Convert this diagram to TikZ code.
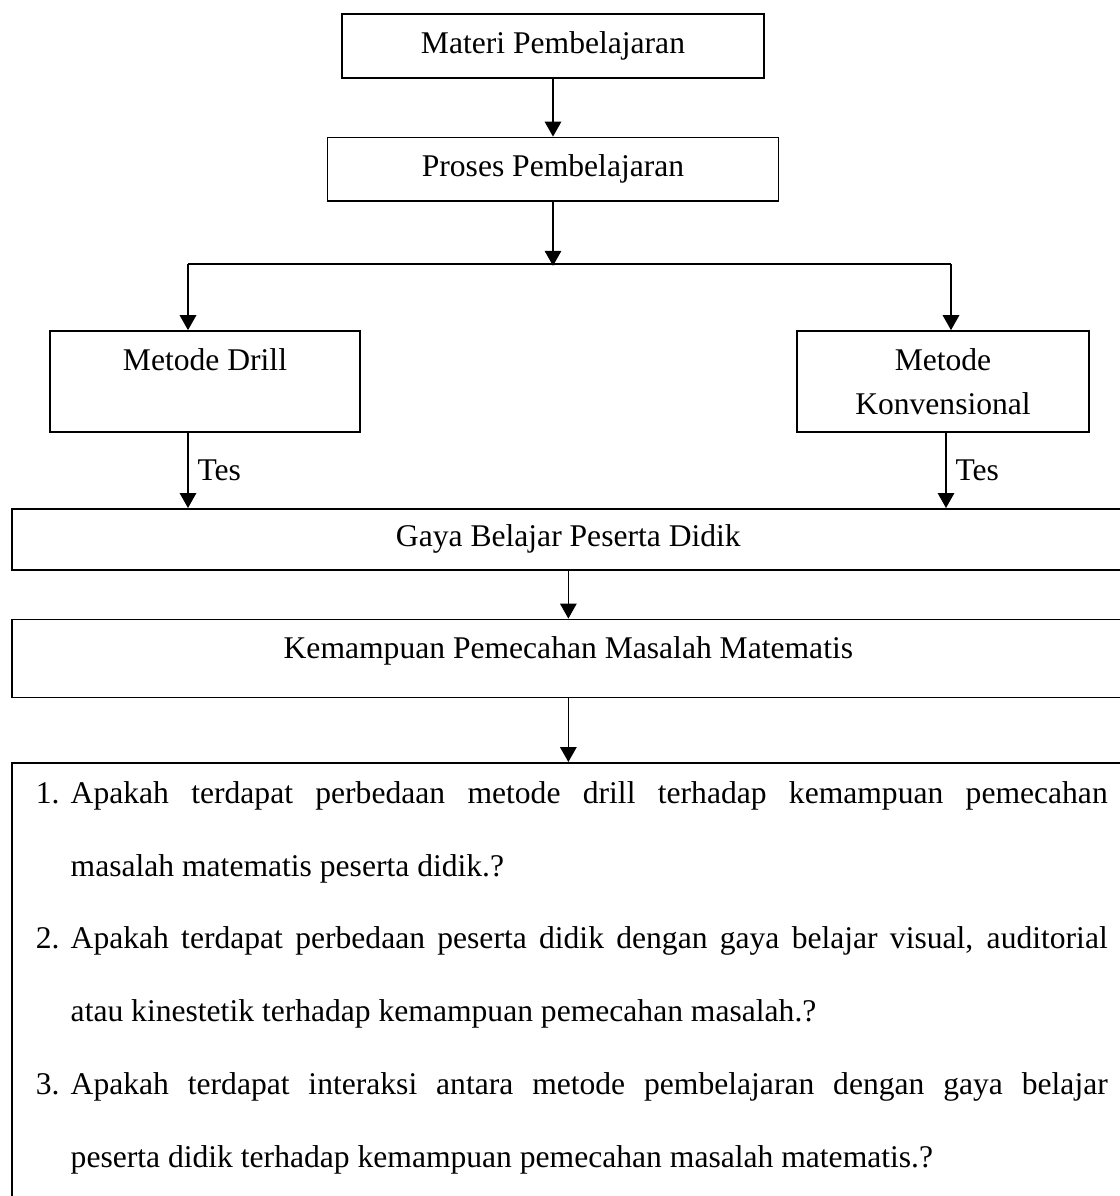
\documentclass[tikz,border=0pt]{standalone}
\usepackage{fontspec}
\setmainfont{Liberation Serif}
\usetikzlibrary{arrows.meta,positioning}

\begin{document}
\begin{tikzpicture}[x=0.1335mm,y=-0.1335mm,font=\fontsize{12pt}{16.6pt}\selectfont,
  >={Triangle[length=2mm,width=2.2mm]},line width=0.6pt]
  \tikzstyle{box}=[draw,align=center,inner sep=1mm,minimum height=8.5mm]
  \tikzstyle{wide}=[box,anchor=north west,minimum width=148.6mm]

  \useasboundingbox (0,0) rectangle (1120,1196);
  \clip (0,0) rectangle (1120,1196);

  % materi dan proses
  \node[box,minimum width=56.3mm] (materi) at (553,46) {Materi Pembelajaran};
  \node[box,minimum width=60.2mm,below=7.74mm of materi] (proses) {Proses Pembelajaran};
  % percabangan
  \coordinate[below=8.54mm of proses] (cabang);
  \coordinate (kiri) at (188,264);
  \coordinate (kanan) at (951,264);
  \coordinate (teskanan) at (946,264);
  % metode
  \node[box,minimum width=41.4mm,minimum height=13.5mm] (drill) at (205,381.5) {Metode Drill\\\mbox{}};
  \node[box,minimum width=39mm,minimum height=13.5mm] (konv) at (943,381.5) {Metode\\Konvensional};
  % gaya belajar dan kemampuan
  \node[wide,minimum height=8.14mm] (gaya) at (11,508) {Gaya Belajar Peserta Didik};
  \node[wide,minimum height=10.41mm,text depth=3mm,below=6.41mm of gaya] (kemampuan) {Kemampuan Pemecahan Masalah Matematis};
  % rumusan masalah
  \node[wide,minimum width=149.5mm,text width=143.1mm,inner xsep=3.2mm,inner ysep=2.45mm,
    text depth=90mm,align=justify] (rumusan) at (11,762) {%
    \fontsize{12pt}{27.7pt}\selectfont
    \leftskip=4.67mm \rightskip=0pt \parfillskip=0pt plus 1fil
    \parindent=0pt \parskip=0pt \hyphenpenalty=10000
    \noindent\llap{\makebox[4.67mm][l]{1.}}Apakah terdapat perbedaan metode drill terhadap kemampuan pemecahan\linebreak
    masalah matematis peserta didik.?\par
    \noindent\llap{\makebox[4.67mm][l]{2.}}Apakah terdapat perbedaan peserta didik dengan gaya belajar visual, auditorial\linebreak
    atau kinestetik terhadap kemampuan pemecahan masalah.?\par
    \noindent\llap{\makebox[4.67mm][l]{3.}}Apakah terdapat interaksi antara metode pembelajaran dengan gaya belajar\linebreak
    peserta didik terhadap kemampuan pemecahan masalah matematis.?\par};

  \draw[->] (materi) -- (proses);
  \draw[->] (proses) -- (cabang);
  \draw (kiri) -- (kanan);
  \draw[->] (kiri) -- (kiri |- drill.north);
  \draw[->] (kanan) -- (kanan |- konv.north);
  \draw[->] (kiri |- drill.south) -- node[right]{Tes} (kiri |- gaya.north);
  \draw[->] (teskanan |- konv.south) -- node[right]{Tes} (teskanan |- gaya.north);
  \draw[->] (gaya) -- (kemampuan);
  \draw[->] (kemampuan) -- (kemampuan |- rumusan.north);
\end{tikzpicture}
\end{document}
